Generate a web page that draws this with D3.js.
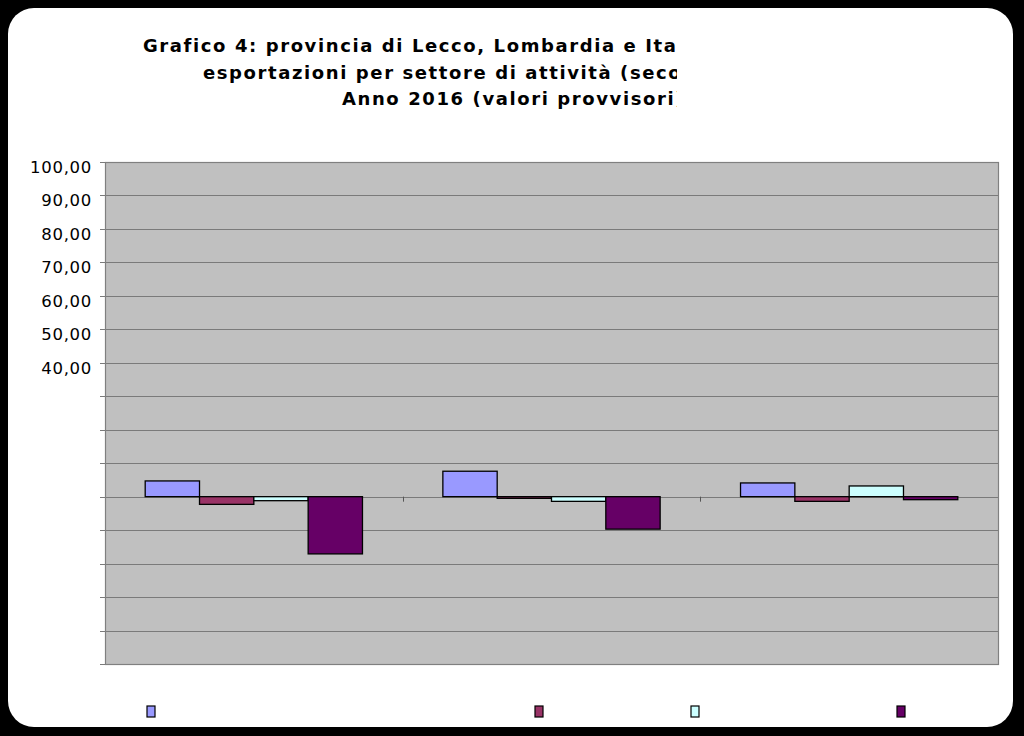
<!DOCTYPE html>
<html>
<head>
<meta charset="utf-8">
<script src="https://cdn.jsdelivr.net/npm/d3@7"></script>
<style>
  body { margin: 0; background: #000; }
  svg { display: block; }
</style>
</head>
<body>
<div id="chart"></div>
<script>
// groups along the category axis (labels are not printed in the original)
var groups = ["Lecco", "Lombardia", "Italia"];
var seriesNames = ["Serie 1", "Serie 2", "Serie 3", "Serie 4"];
var seriesColors = ["#9999ff", "#993366", "#ccffff", "#660066"];
// values per series, one per group
var serie1 = [4.7, 7.6, 4.1];
var serie2 = [-2.3, -0.5, -1.4];
var serie3 = [-1.2, -1.4, 3.2];
var serie4 = [-17.1, -9.7, -0.9];
var yTicks = d3.range(-50, 101, 10);
var labelledTicks = [40, 50, 60, 70, 80, 90, 100];
var titleLines = [
  "Grafico 4: provincia di Lecco, Lombardia e Italia - variazioni %",
  "esportazioni per settore di attività (secondo la classificazione Ateco)",
  "Anno 2016 (valori provvisori)"
];

var W = 1024, H = 736;
var plot = {x0: 105, x1: 998, y0: 162, y1: 664};

var svg = d3.select("#chart").append("svg")
  .attr("width", W).attr("height", H);

svg.append("rect").attr("width", W).attr("height", H).attr("fill", "#000");
svg.append("rect")
  .attr("x", 8).attr("y", 8)
  .attr("width", 1005).attr("height", 719)
  .attr("rx", 26).attr("ry", 26)
  .attr("fill", "#fff");

// title, clipped like the original
svg.append("clipPath").attr("id", "titleclip")
  .append("rect").attr("x", 0).attr("y", 0).attr("width", 677).attr("height", 140);

var titleStarts = [143, 203, 342];
svg.append("g").attr("clip-path", "url(#titleclip)")
  .selectAll("text").data(titleLines).enter()
  .append("text")
    .attr("x", function (d, i) { return titleStarts[i]; })
    .attr("y", function (d, i) { return 52 + i * 26.5; })
    .attr("font-family", "DejaVu Sans, Verdana, sans-serif")
    .attr("font-weight", "bold")
    .attr("font-size", "18px")
    .attr("letter-spacing", "1.6px")
    .attr("fill", "#000")
    .text(function (d) { return d; });

var y = d3.scaleLinear().domain([-50, 100]).range([plot.y1, plot.y0]);
var x0 = d3.scaleBand().domain(groups).range([plot.x0, plot.x1]);
var x1 = d3.scaleBand().domain(seriesNames).range([0, x0.bandwidth()])
  .paddingInner(0).paddingOuter(0.74);

// plot background
svg.append("rect")
  .attr("x", plot.x0).attr("y", plot.y0)
  .attr("width", plot.x1 - plot.x0).attr("height", plot.y1 - plot.y0)
  .attr("fill", "#c0c0c0");

// gridlines
svg.append("g").selectAll("line").data(yTicks).enter()
  .append("line")
    .attr("x1", plot.x0 - 5).attr("x2", plot.x1)
    .attr("y1", function (d) { return Math.round(y(d)) + 0.5; })
    .attr("y2", function (d) { return Math.round(y(d)) + 0.5; })
    .attr("stroke", "#7a7a7a")
    .attr("stroke-width", 1);

svg.append("rect")
  .attr("x", plot.x0 + 0.5).attr("y", plot.y0 + 0.5)
  .attr("width", plot.x1 - plot.x0).attr("height", plot.y1 - plot.y0)
  .attr("fill", "none").attr("stroke", "#808080").attr("stroke-width", 1.2);

// y axis labels
var fmt = function (d) { return d3.format(".2f")(d).replace(".", ","); };
svg.append("g").selectAll("text").data(labelledTicks).enter()
  .append("text")
    .attr("x", 92)
    .attr("y", function (d) { return y(d) + 11; })
    .attr("text-anchor", "end")
    .attr("font-family", "DejaVu Sans, Verdana, sans-serif")
    .attr("font-size", "16.5px")
    .attr("letter-spacing", "0.7px")
    .attr("fill", "#000")
    .text(fmt);

// category ticks on the zero line
svg.append("g").selectAll("line").data(groups.slice(1)).enter()
  .append("line")
    .attr("x1", function (d) { return Math.round(x0(d)) + 0.5; })
    .attr("x2", function (d) { return Math.round(x0(d)) + 0.5; })
    .attr("y1", y(0)).attr("y2", y(0) + 5)
    .attr("stroke", "#555");

// bars
var allSeries = [serie1, serie2, serie3, serie4];
var barData = [];
allSeries.forEach(function (vals, si) {
  vals.forEach(function (v, gi) {
    barData.push({g: groups[gi], s: seriesNames[si], v: v, c: seriesColors[si]});
  });
});

svg.append("g").selectAll("rect").data(barData).enter()
  .append("rect")
    .attr("x", function (d) { return x0(d.g) + x1(d.s); })
    .attr("y", function (d) { return y(Math.max(0, d.v)); })
    .attr("width", x1.bandwidth())
    .attr("height", function (d) { return Math.abs(y(d.v) - y(0)); })
    .attr("fill", function (d) { return d.c; })
    .attr("stroke", "#000")
    .attr("stroke-width", 1.3);

// legend (only the keys are visible)
var legendX = [147, 535, 691, 897];
svg.append("g").selectAll("rect").data(seriesNames).enter()
  .append("rect")
    .attr("x", function (d, i) { return legendX[i]; })
    .attr("y", 706)
    .attr("width", 8).attr("height", 11)
    .attr("fill", function (d, i) { return seriesColors[i]; })
    .attr("stroke", "#000")
    .attr("stroke-width", 1.2);
</script>
</body>
</html>
